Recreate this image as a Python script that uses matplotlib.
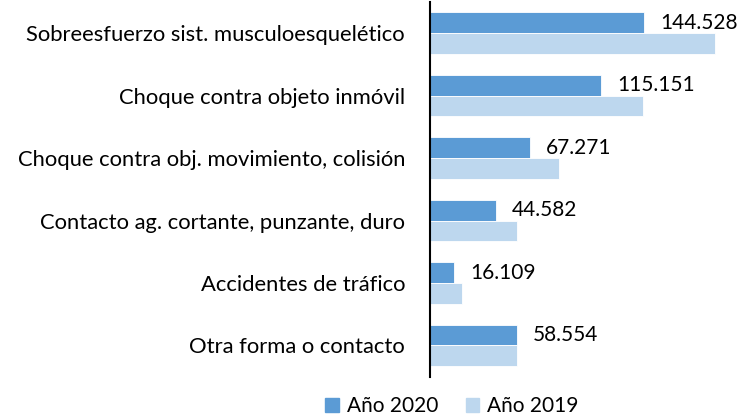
import matplotlib
matplotlib.use("Agg")
import matplotlib.pyplot as plt
import numpy as np
from matplotlib.patches import Patch

categories = [
    "Sobreesfuerzo sist. musculoesquelético",
    "Choque contra objeto inmóvil",
    "Choque contra obj. movimiento, colisión",
    "Contacto ag. cortante, punzante, duro",
    "Accidentes de tráfico",
    "Otra forma o contacto",
]
values_2020 = [144.528, 115.151, 67.271, 44.582, 16.109, 58.554]
values_2019 = [192.2, 143.4, 86.8, 58.7, 21.6, 58.9]
labels_2020 = ["144.528", "115.151", "67.271", "44.582", "16.109", "58.554"]
series_names = ["Año 2020", "Año 2019"]

c2020 = "#5B9BD5"
c2019 = "#BDD7EE"
font = "Lato"

W, H = 744, 416
fig = plt.figure(figsize=(W / 100, H / 100), dpi=100)
x0, x1 = 430, 430 + 210 * 1.483
y_top, y_bot = 2, 376.6
ax = fig.add_axes([x0 / W, 1 - y_bot / H, (x1 - x0) / W, (y_bot - y_top) / H])

n = len(categories)
y = np.arange(n)
h = 0.332
ax.barh(y - h / 2, values_2020, height=h, color=c2020, edgecolor="white", linewidth=0.6)
ax.barh(y + h / 2, values_2019, height=h, color=c2019, edgecolor="white", linewidth=0.6)

for yi, v, lab in zip(y, values_2020, labels_2020):
    ax.annotate(lab, (v, yi - h / 2), xytext=(16, 0), textcoords="offset pixels",
                ha="left", va="center", fontsize=15, family=font, color="#000000")

ax.set_xlim(0, 210)
ax.set_ylim(n - 0.5, -0.5)
ax.set_yticks(y)
ax.set_yticklabels(categories, fontsize=15.8, family=font, color="#000000")
ax.tick_params(axis="y", length=0, pad=18)
ax.set_xticks([])
for s in ["top", "right", "bottom"]:
    ax.spines[s].set_visible(False)
ax.spines["left"].set_linewidth(1.5)
ax.spines["left"].set_color("#000000")

handles = [Patch(color=c2020), Patch(color=c2019)]
fig.legend(handles, series_names, loc="center", bbox_to_anchor=(452 / W, 1 - 406 / H),
           ncol=2, frameon=False, prop={"family": font, "size": 15},
           handlelength=0.65, handleheight=0.65, handletextpad=0.4, columnspacing=1.3)

fig.savefig("out.png", dpi=100)
